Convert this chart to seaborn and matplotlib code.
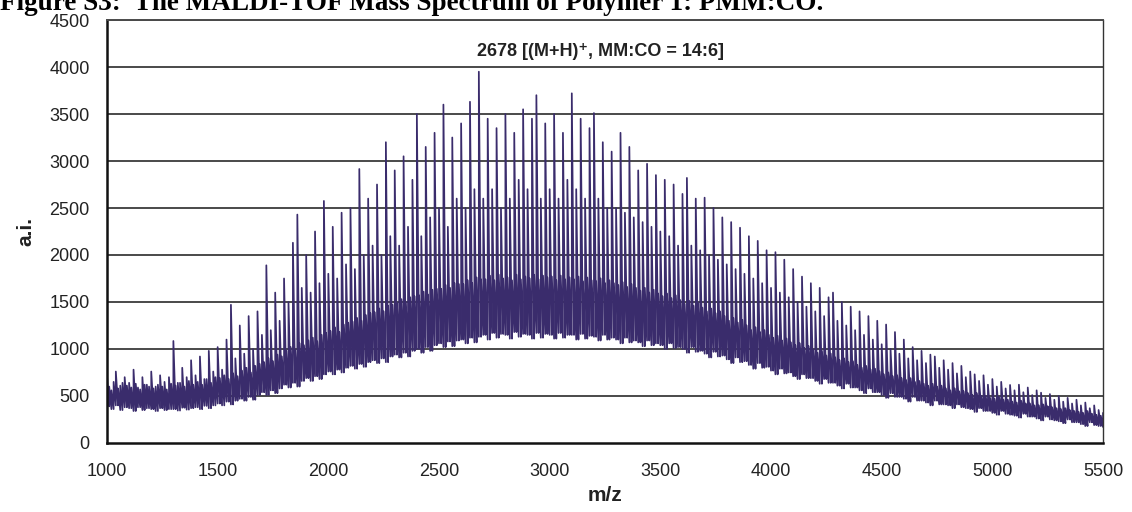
import numpy as np
import pandas as pd
import matplotlib
matplotlib.use("Agg")
import matplotlib.pyplot as plt
import seaborn as sns

# m/z slots (every 20 m/z)
mz = list(range(1000, 5501, 20))

# tallest line in each slot (a.i.)
peak_top = [
    720, 560, 760, 610, 700,
    640, 780, 590, 700, 620,
    760, 600, 720, 650, 700,
    1085, 640, 800, 700, 880,
    720, 920, 680, 980, 760,
    1020, 780, 1100, 1470, 900,
    1250, 950, 1350, 1000, 1400,
    1150, 1890, 1200, 1600, 1300,
    1750, 1500, 2130, 2430, 1650,
    2000, 1600, 2250, 1700, 2575,
    1800, 2300, 1750, 2450, 1900,
    2500, 1850, 2915, 2000, 2600,
    2100, 2750, 2000, 3200, 2200,
    2900, 2100, 3050, 2300, 2800,
    3500, 2200, 3150, 2400, 3300,
    2500, 3600, 2300, 3250, 2600,
    3400, 2500, 3630, 2700, 3950,
    2600, 3450, 2700, 3350, 2500,
    3500, 2600, 3300, 2800, 3550,
    2700, 3450, 3700, 2600, 3400,
    2700, 3500, 2600, 3300, 2800,
    3720, 2700, 3450, 2600, 3350,
    3510, 2600, 3200, 2500, 3100,
    2500, 3300, 2450, 3150, 2400,
    2900, 2350, 2970, 2300, 2850,
    2250, 2800, 2200, 2750, 2100,
    2650, 2820, 2100, 2600, 2050,
    2610, 2000, 2500, 1950, 2400,
    1900, 2350, 1850, 2290, 1800,
    2200, 1750, 2150, 1700, 2050,
    1650, 2030, 1600, 1950, 1550,
    1850, 1500, 1770, 1450, 1700,
    1400, 1650, 1350, 1550, 1600,
    1300, 1500, 1250, 1450, 1200,
    1400, 1150, 1350, 1100, 1300,
    1050, 1260, 1000, 1180, 950,
    1100, 900, 1020, 880, 980,
    850, 940, 920, 800, 880,
    780, 850, 740, 820, 700,
    760, 730, 660, 720, 620,
    680, 600, 650, 580, 617,
    560, 620, 540, 590, 510,
    560, 535, 480, 520, 460,
    500, 440, 480, 420, 460,
    400, 430, 370, 400, 351,
    320,
]

# top of the dense band of small lines in each slot
band_top = [
    600, 650, 580, 640, 610,
    590, 630, 570, 620, 600,
    580, 620, 600, 570, 630,
    610, 640, 600, 660, 620,
    650, 620, 680, 640, 700,
    690, 720, 680, 740, 710,
    770, 800, 750, 820, 840,
    860, 900, 870, 940, 920,
    980, 1020, 990, 1060, 1040,
    1090, 1120, 1080, 1150, 1170,
    1190, 1230, 1180, 1260, 1280,
    1290, 1330, 1300, 1360, 1380,
    1390, 1430, 1400, 1460, 1470,
    1490, 1530, 1500, 1550, 1560,
    1570, 1610, 1580, 1630, 1640,
    1640, 1680, 1650, 1700, 1690,
    1690, 1730, 1700, 1760, 1740,
    1740, 1780, 1730, 1790, 1750,
    1760, 1730, 1790, 1740, 1770,
    1750, 1790, 1740, 1780, 1760,
    1770, 1730, 1780, 1740, 1760,
    1740, 1770, 1720, 1760, 1730,
    1720, 1750, 1700, 1730, 1700,
    1680, 1710, 1660, 1690, 1650,
    1620, 1650, 1600, 1630, 1590,
    1560, 1590, 1540, 1570, 1520,
    1480, 1510, 1460, 1490, 1440,
    1400, 1430, 1380, 1400, 1350,
    1300, 1330, 1280, 1310, 1250,
    1200, 1230, 1180, 1200, 1150,
    1120, 1140, 1090, 1110, 1070,
    1040, 1060, 1010, 1030, 990,
    960, 980, 930, 950, 910,
    880, 900, 860, 870, 830,
    800, 820, 780, 790, 760,
    730, 750, 710, 720, 690,
    670, 690, 650, 660, 630,
    610, 630, 600, 610, 580,
    560, 580, 550, 550, 530,
    510, 530, 500, 500, 480,
    470, 490, 460, 460, 440,
    430, 450, 420, 420, 400,
    400, 410, 390, 380, 370,
    360, 370, 350, 340, 330,
    320, 340, 310, 300, 290,
    290,
]

# baseline (lowest reach of the lines) in each slot
base = [
    390, 360, 400, 350, 380,
    370, 340, 380, 350, 370,
    360, 340, 370, 350, 360,
    360, 345, 375, 355, 370,
    380, 360, 395, 370, 400,
    420, 400, 440, 410, 450,
    470, 450, 490, 460, 510,
    540, 510, 560, 530, 580,
    620, 590, 640, 600, 660,
    690, 660, 710, 680, 730,
    760, 730, 780, 750, 800,
    820, 790, 840, 810, 860,
    880, 850, 900, 860, 920,
    940, 910, 960, 920, 980,
    1000, 960, 1020, 980, 1040,
    1060, 1020, 1080, 1030, 1090,
    1100, 1060, 1120, 1070, 1130,
    1150, 1100, 1170, 1120, 1160,
    1150, 1110, 1180, 1130, 1160,
    1150, 1110, 1170, 1120, 1160,
    1150, 1110, 1170, 1120, 1150,
    1150, 1100, 1160, 1110, 1140,
    1130, 1090, 1150, 1100, 1120,
    1100, 1060, 1120, 1070, 1090,
    1070, 1030, 1090, 1040, 1060,
    1040, 1000, 1060, 1010, 1020,
    1000, 960, 1020, 970, 980,
    950, 910, 970, 920, 930,
    890, 850, 910, 860, 870,
    830, 790, 850, 800, 810,
    770, 730, 790, 740, 750,
    710, 680, 730, 690, 690,
    660, 630, 680, 640, 640,
    610, 580, 630, 590, 590,
    560, 530, 580, 540, 540,
    510, 480, 530, 490, 490,
    470, 440, 490, 450, 450,
    430, 400, 450, 410, 410,
    400, 370, 410, 380, 370,
    360, 330, 370, 340, 340,
    320, 300, 340, 310, 300,
    290, 270, 310, 280, 280,
    260, 240, 280, 250, 240,
    230, 210, 250, 220, 220,
    200, 180, 220, 190, 180,
    170,
]

y_ticks = [0, 500, 1000, 1500, 2000, 2500, 3000, 3500, 4000, 4500]
x_ticks = [1000, 1500, 2000, 2500, 3000, 3500, 4000, 4500, 5000, 5500]

# build the spectrum trace (line drawn in acquisition order)
xs, ys = [], []
for i, m in enumerate(mz):
    xs += [m, m]
    ys += [base[i], peak_top[i]]
    if m + 10 <= 5500:
        xs += [m + 10, m + 10]
        ys += [base[i], band_top[i]]
df = pd.DataFrame({"mz": xs, "ai": ys})

sns.set_style("white")
plt.rcParams["font.family"] = ["Liberation Sans", "DejaVu Sans"]

fig = plt.figure(figsize=(11.32, 5.12), dpi=100)
ax = fig.add_axes([0.0945, 0.1348, 0.8799, 0.8261])

ax.set_axisbelow(True)
for yv in y_ticks[1:]:
    ax.axhline(yv, color="#4a4a4a", lw=1.4, zorder=0)

sns.lineplot(data=df, x="mz", y="ai", estimator=None, sort=False,
             color="#3a2c6c", lw=1.25, ax=ax, legend=False, zorder=2)

ax.set_xlim(1000, 5500)
ax.set_ylim(0, 4500)
ax.set_xticks(x_ticks)
ax.set_yticks(y_ticks)
ax.tick_params(axis="both", direction="out", length=7.5, width=1.0,
               color="#222222", labelsize=13, labelcolor="#222222")
ax.tick_params(axis="x", pad=7)
ax.tick_params(axis="y", pad=5)

for s in ["left", "bottom"]:
    ax.spines[s].set_color("#111111")
    ax.spines[s].set_linewidth(1.8)
ax.spines["right"].set_color("#333333")
ax.spines["right"].set_linewidth(1.0)
ax.spines["top"].set_color("#4a4a4a")
ax.spines["top"].set_linewidth(1.4)

ax.set_xlabel("m/z", fontsize=15, fontweight="bold", color="#222222", labelpad=4)
ax.set_ylabel("a.i.", fontsize=15, fontweight="bold", color="#222222", labelpad=10)

ax.text(3230, 4170, "2678 [(M+H)\u207a, MM:CO = 14:6]", ha="center", va="center",
        fontsize=13, fontweight="bold", color="#222222",
        family=["Liberation Sans", "DejaVu Sans"])

fig.text(0.0, 1 - 10 / 512, "Figure S3:  The MALDI-TOF Mass Spectrum of Polymer 1: PMM:CO.",
         family=["Liberation Serif", "DejaVu Serif"], fontweight="bold", fontsize=19.5,
         ha="left", va="baseline", color="black")

fig.savefig("out.png", dpi=100)
